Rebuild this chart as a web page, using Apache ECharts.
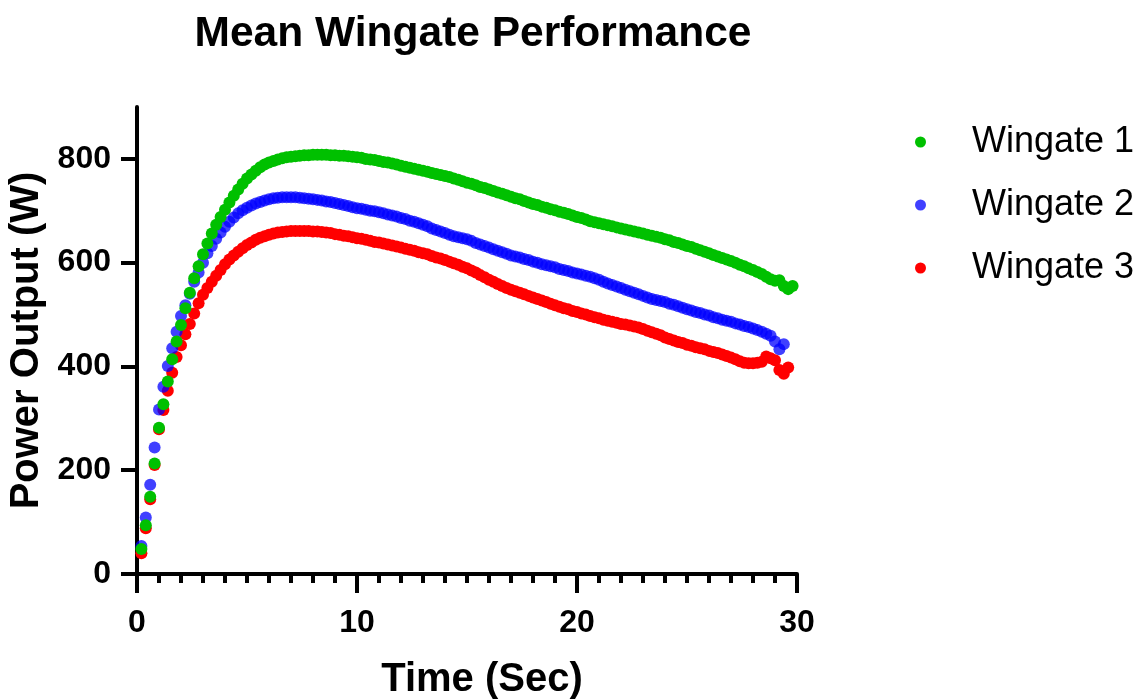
<!DOCTYPE html>
<html>
<head>
<meta charset="utf-8">
<title>Mean Wingate Performance</title>
<script src="https://cdn.jsdelivr.net/npm/echarts@6/dist/echarts.min.js"></script>
<style>
  html, body { margin: 0; padding: 0; background: #ffffff; }
  #chart { width: 1142px; height: 699px; }
</style>
</head>
<body>
<div id="chart"></div>
<script>
// Sample times (s), one reading every 0.2 s
const times = [
  0.2, 0.4, 0.6, 0.8, 1.0, 1.2, 1.4, 1.6, 1.8, 2.0,
  2.2, 2.4, 2.6, 2.8, 3.0, 3.2, 3.4, 3.6, 3.8, 4.0,
  4.2, 4.4, 4.6, 4.8, 5.0, 5.2, 5.4, 5.6, 5.8, 6.0,
  6.2, 6.4, 6.6, 6.8, 7.0, 7.2, 7.4, 7.6, 7.8, 8.0,
  8.2, 8.4, 8.6, 8.8, 9.0, 9.2, 9.4, 9.6, 9.8, 10.0,
  10.2, 10.4, 10.6, 10.8, 11.0, 11.2, 11.4, 11.6, 11.8, 12.0,
  12.2, 12.4, 12.6, 12.8, 13.0, 13.2, 13.4, 13.6, 13.8, 14.0,
  14.2, 14.4, 14.6, 14.8, 15.0, 15.2, 15.4, 15.6, 15.8, 16.0,
  16.2, 16.4, 16.6, 16.8, 17.0, 17.2, 17.4, 17.6, 17.8, 18.0,
  18.2, 18.4, 18.6, 18.8, 19.0, 19.2, 19.4, 19.6, 19.8, 20.0,
  20.2, 20.4, 20.6, 20.8, 21.0, 21.2, 21.4, 21.6, 21.8, 22.0,
  22.2, 22.4, 22.6, 22.8, 23.0, 23.2, 23.4, 23.6, 23.8, 24.0,
  24.2, 24.4, 24.6, 24.8, 25.0, 25.2, 25.4, 25.6, 25.8, 26.0,
  26.2, 26.4, 26.6, 26.8, 27.0, 27.2, 27.4, 27.6, 27.8, 28.0,
  28.2, 28.4, 28.6, 28.8, 29.0, 29.2, 29.4, 29.6, 29.8
];

// Mean power output (W) per trial
const wingate1 = [
  48, 94, 149, 213, 282, 327, 371, 414, 448, 480,
  512, 542, 570, 593, 616, 637, 656, 673, 688, 702,
  716, 729, 741, 752, 762, 770, 777, 784, 789, 793,
  796, 799, 801, 803, 804, 805, 806, 807, 807, 808,
  808, 808, 808, 807, 807, 806, 806, 805, 804, 803,
  802, 800, 799, 798, 796, 794, 793, 791, 789, 787,
  785, 783, 781, 779, 777, 775, 773, 771, 769, 767,
  765, 762, 760, 757, 754, 752, 749, 746, 744, 741,
  738, 735, 733, 730, 727, 724, 722, 719, 716, 713,
  711, 708, 706, 703, 701, 698, 696, 694, 691, 688,
  686, 683, 680, 678, 676, 674, 672, 670, 668, 666,
  664, 662, 660, 658, 656, 654, 652, 650, 648, 645,
  643, 640, 638, 635, 632, 630, 627, 624, 621, 618,
  615, 612, 609, 606, 603, 600, 596, 593, 589, 586,
  582, 578, 573, 568, 565, 566, 555, 549, 555
];

const wingate2 = [
  54, 109, 172, 244, 317, 361, 401, 435, 467, 497,
  518, 540, 563, 581, 600, 618, 632, 646, 658, 669,
  679, 687, 695, 701, 706, 710, 714, 717, 720, 722,
  724, 725, 726, 726, 726, 726, 725, 724, 723, 722,
  721, 720, 718, 717, 715, 713, 711, 709, 707, 705,
  704, 702, 700, 699, 697, 695, 693, 691, 689, 686,
  684, 681, 679, 676, 673, 670, 666, 663, 660, 657,
  654, 651, 649, 647, 645, 642, 638, 635, 632, 629,
  626, 623, 620, 617, 614, 612, 610, 607, 605, 602,
  600, 597, 595, 593, 591, 588, 586, 584, 581, 579,
  577, 575, 573, 570, 567, 563, 560, 557, 554, 551,
  548, 545, 542, 539, 536, 533, 530, 528, 526, 524,
  521, 519, 516, 513, 510, 508, 505, 503, 500, 498,
  495, 493, 490, 488, 486, 483, 481, 478, 476, 473,
  470, 467, 463, 459, 448, 433, 443
];

const wingate3 = [
  40, 88, 144, 210, 279, 316, 353, 388, 418, 441,
  462, 482, 502, 522, 538, 551, 563, 575, 586, 597,
  606, 614, 621, 628, 634, 639, 644, 648, 651, 654,
  656, 658, 659, 660, 661, 661, 661, 661, 661, 660,
  660, 659, 658, 657, 655, 654, 652, 651, 649, 647,
  646, 644, 642, 640, 639, 637, 635, 633, 631, 629,
  627, 625, 623, 620, 618, 616, 613, 610, 608, 605,
  602, 599, 596, 592, 589, 585, 581, 576, 572, 567,
  563, 559, 555, 551, 548, 545, 542, 539, 536, 533,
  530, 527, 524, 521, 518, 515, 512, 510, 507, 505,
  502, 500, 497, 495, 493, 490, 488, 486, 484, 482,
  481, 479, 477, 475, 472, 469, 466, 463, 460, 456,
  453, 450, 447, 445, 442, 440, 437, 435, 433, 430,
  428, 426, 423, 420, 417, 414, 410, 407, 406, 406,
  407, 409, 419, 416, 412, 393, 386, 398
];

const seriesNames = ['Wingate 1', 'Wingate 2', 'Wingate 3'];
const yTickValues = [0, 200, 400, 600, 800];

const FONT = "'Liberation Sans', Arial, Helvetica, sans-serif";

function pairs(values) {
  return values.map((v, i) => [times[i], v]);
}

const chart = echarts.init(document.getElementById('chart'), null, { renderer: 'canvas' });

const axisLineStyle = { color: '#000', width: 4 };

chart.setOption({
  animation: false,
  backgroundColor: '#ffffff',
  title: {
    text: 'Mean Wingate Performance',
    left: 468,
    top: 8,
    textAlign: 'center',
    textStyle: { fontFamily: FONT, fontWeight: 'bold', fontSize: 42.5, color: '#000' }
  },
  legend: {
    orient: 'vertical',
    left: 910,
    top: 119,
    icon: 'circle',
    itemWidth: 11,
    itemHeight: 11,
    itemGap: 27,
    data: seriesNames,
    textStyle: { fontFamily: FONT, fontSize: 36, color: '#000', padding: [0, 0, 0, 41] }
  },
  grid: {
    left: 137, right: 345, top: 107, bottom: 125,
    containLabel: false,
    outerBoundsMode: 'none'
  },
  xAxis: {
    type: 'value',
    min: 0,
    max: 30,
    interval: 10,
    name: 'Time (Sec)',
    nameLocation: 'middle',
    nameGap: 86,
    nameTextStyle: { fontFamily: FONT, fontWeight: 'bold', fontSize: 40, color: '#000', padding: [0, 0, 0, 30] },
    axisLine: { show: true, onZero: false, lineStyle: axisLineStyle },
    axisTick: { show: true, length: 19, lineStyle: { color: '#000', width: 4 } },
    minorTick: { show: true, splitNumber: 10, length: 9, lineStyle: { color: '#000', width: 4 } },
    axisLabel: { margin: 33, fontFamily: FONT, fontWeight: 'bold', fontSize: 32, color: '#000' },
    splitLine: { show: false },
    minorSplitLine: { show: false }
  },
  yAxis: {
    type: 'value',
    min: 0,
    max: 900,
    name: 'Power Output (W)',
    nameLocation: 'middle',
    nameGap: 77,
    nameTextStyle: { fontFamily: FONT, fontWeight: 'bold', fontSize: 40, color: '#000' },
    axisLine: { show: true, onZero: false, lineStyle: axisLineStyle },
    axisTick: { show: true, length: 16, customValues: yTickValues, lineStyle: { color: '#000', width: 4 } },
    axisLabel: { margin: 26, customValues: yTickValues, fontFamily: FONT, fontWeight: 'bold', fontSize: 32, color: '#000' },
    splitLine: { show: false }
  },
  series: [
    {
      name: 'Wingate 1',
      type: 'scatter',
      symbol: 'circle',
      symbolSize: 12,
      z: 4,
      itemStyle: { color: '#00c000', opacity: 1 },
      data: pairs(wingate1)
    },
    {
      name: 'Wingate 2',
      type: 'scatter',
      symbol: 'circle',
      symbolSize: 12,
      z: 3,
      itemStyle: { color: '#0000ff', opacity: 0.75 },
      data: pairs(wingate2)
    },
    {
      name: 'Wingate 3',
      type: 'scatter',
      symbol: 'circle',
      symbolSize: 12,
      z: 2,
      itemStyle: { color: '#ff0000', opacity: 1 },
      data: pairs(wingate3)
    }
  ]
});
</script>
</body>
</html>
